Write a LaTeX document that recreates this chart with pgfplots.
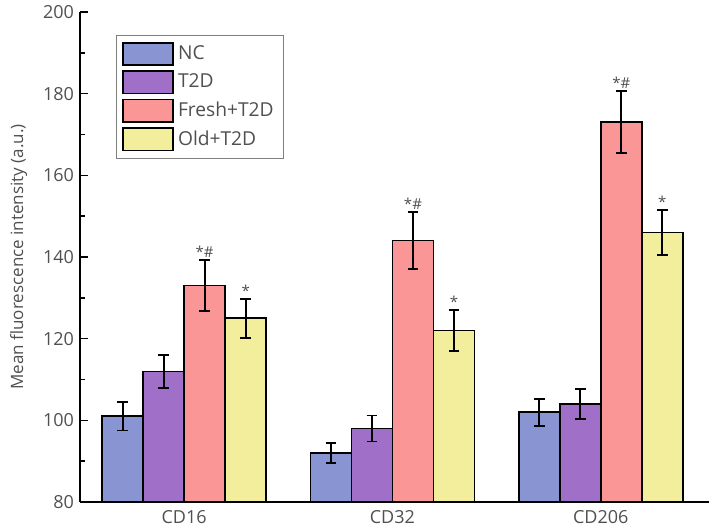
\documentclass[border=0pt]{standalone}
\usepackage{pgfplots}
\pgfplotsset{compat=1.18}
\usepackage{fontspec}
\setmainfont{Open Sans}
\definecolor{cNC}{RGB}{137,148,210}
\definecolor{cT2D}{RGB}{160,112,200}
\definecolor{cFresh}{RGB}{250,150,150}
\definecolor{cOld}{RGB}{242,238,155}
\definecolor{txt}{RGB}{80,80,80}
\begin{document}
\begin{tikzpicture}
\begin{axis}[
  name=ax,
  scale only axis,
  width=314.5pt, height=245pt,
  ymin=80, ymax=200,
  xmin=-0.5, xmax=2.52,
  ytick={80,100,...,200},
  minor y tick num=1,
  xtick={0,1,2},
  xticklabels={CD16,CD32,CD206},
  axis x line*=bottom,
  axis y line*=left,
  tick align=inside,
  major tick length=4pt,
  minor tick length=2.5pt,
  x tick style={draw=none},
  axis line style={line width=0.7pt},
  y tick style={line width=0.7pt, black},
  font=\fontsize{9}{11}\selectfont,
  /pgf/number format/assume math mode=true,
  tick label style={text=txt, font=\fontsize{9}{11}\selectfont},
  yticklabel style={xshift=0.5pt},
  xticklabel style={yshift=3.5pt},
  ylabel={Mean fluorescence intensity (a.u.)},
  ylabel style={text=txt, font=\fontsize{8.5}{10}\selectfont, yshift=1pt},
  ybar=0pt,
  bar width=20.5pt,
  every axis plot/.append style={draw=black, line width=0.8pt},
  error bars/y dir=both,
  error bars/y explicit,
  error bars/error bar style={line width=0.9pt, black},
  error bars/error mark options={rotate=90, mark size=2.7pt, line width=0.9pt, black},
  legend style={at={(0.057,0.953)}, anchor=north west, draw=gray, line width=0.6pt,
    font=\fontsize{9.6}{11}\selectfont, text=txt, row sep=1.6pt, inner sep=3pt},
  legend cell align=left,
  legend image code/.code={\draw[#1, draw=black, line width=0.8pt] (0pt,-5.6pt) rectangle (25pt,5.6pt);},
]
\addplot[fill=cNC] coordinates {(0,101) +- (0,3.5) (1,92) +- (0,2.5) (2,102) +- (0,3.3)};
\addplot[fill=cT2D] coordinates {(0,112) +- (0,4.0) (1,98) +- (0,3.2) (2,104) +- (0,3.6)};
\addplot[fill=cFresh] coordinates {(0,133) +- (0,6.3) (1,144) +- (0,7.0) (2,173) +- (0,7.6)};
\addplot[fill=cOld] coordinates {(0,125) +- (0,4.8) (1,122) +- (0,5.0) (2,146) +- (0,5.6)};
\legend{NC,T2D,Fresh+T2D,Old+T2D}
\begin{scope}[every node/.style={text=txt, font=\fontsize{7.5}{9}\selectfont, anchor=south, inner sep=1pt}]
\node at (axis cs:0.0986,139.3) {*\#};
\node at (axis cs:0.2957,129.8) {*};
\node at (axis cs:1.0986,151.0) {*\#};
\node at (axis cs:1.2957,127.0) {*};
\node at (axis cs:2.0986,180.6) {*\#};
\node at (axis cs:2.2957,151.6) {*};
\end{scope}
\end{axis}
\pgfresetboundingbox
\path ([shift={(-40pt,-13.5pt)}]ax.south west) rectangle ([shift={(0pt,6pt)}]ax.north east);
\end{tikzpicture}
\end{document}
